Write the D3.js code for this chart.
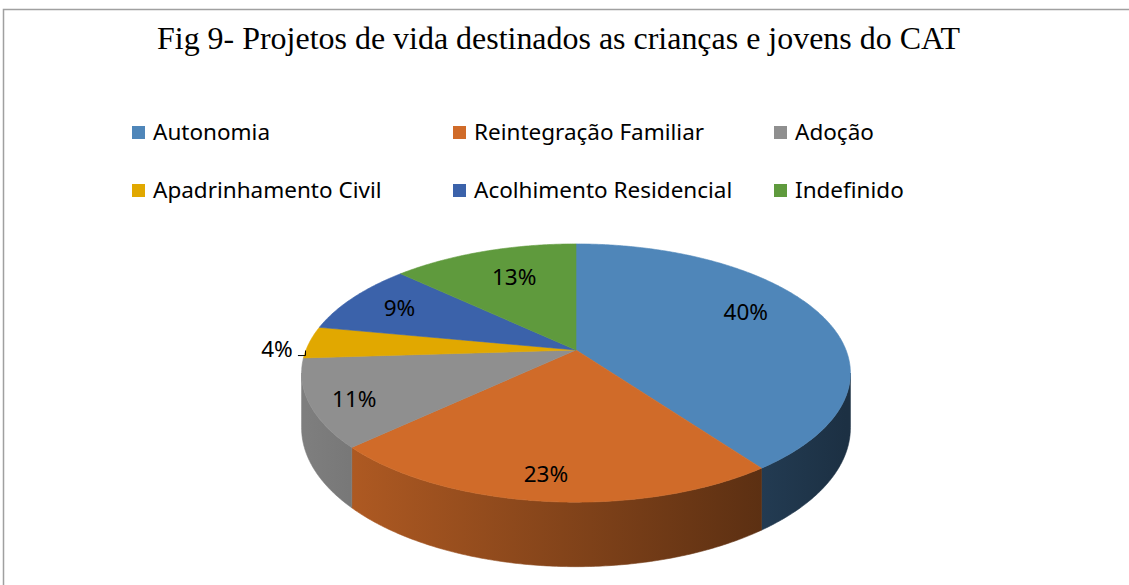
<!DOCTYPE html>
<html>
<head>
<meta charset="utf-8">
<script src="https://cdn.jsdelivr.net/npm/d3@7"></script>
<style>
  body { margin: 0; background: #fff; }
  svg { display: block; }
</style>
</head>
<body>
<script>
// data
var categories = ['Autonomia', 'Reintegração Familiar', 'Adoção',
                  'Apadrinhamento Civil', 'Acolhimento Residencial', 'Indefinido'];
var values = [40, 23, 11, 4, 9, 13];
var colors = ['#4f86b9', '#d06b29', '#8f8f8f', '#e1a800', '#3b62aa', '#5f9a3d'];
var titleText = 'Fig 9- Projetos de vida destinados as crianças e jovens do CAT';

// label placement (angle nudge in degrees, radius as fraction)
var labelShift = [-8, 1, -2, -3, 0, 2];
var labelRadius = [0.74, 0.85, 0.85, 1.11, 0.78, 0.70];

var W = 1129, H = 585;
var g = {cx: 576, cy: 350, A: 125, B: 270, k: -0.1785, depth: 53};

var svg = d3.select('body').append('svg')
  .attr('width', W)
  .attr('height', H);

svg.append('rect').attr('width', W).attr('height', H).attr('fill', '#fff');

// frame (top + left edges only are visible)
svg.append('path')
  .attr('d', 'M3.5,' + H + 'V9.5H' + W)
  .attr('fill', 'none')
  .attr('stroke', '#a0a0a0')
  .attr('stroke-width', 1.5);

svg.append('text')
  .attr('x', 558.5)
  .attr('y', 49)
  .attr('text-anchor', 'middle')
  .attr('font-family', 'Liberation Serif, Times New Roman, serif')
  .attr('font-size', 32)
  .attr('textLength', 803)
  .attr('lengthAdjust', 'spacingAndGlyphs')
  .attr('fill', '#000')
  .text(titleText);

// legend
var legend = svg.append('g').attr('font-family', 'Noto Sans, sans-serif').attr('font-size', 22.5);
categories.forEach(function(c, i) {
  var col = i % 3, row = Math.floor(i / 3);
  var x = 132 + col * 321, y = 126 + row * 58;
  legend.append('rect').attr('x', x).attr('y', y).attr('width', 13).attr('height', 13).attr('fill', colors[i]);
  legend.append('text').attr('x', x + 21).attr('y', y + 14).attr('fill', '#000').text(c);
});

// simple perspective projection of the disc
var proj = function(theta, rho, drop) {
  var u = rho * Math.sin(theta), v = -rho * Math.cos(theta);
  var den = 1 + g.k * v;
  return [g.cx + g.B * u / den, g.cy + (g.A * v + (drop || 0)) / den];
};

var arcPts = function(a0, a1, drop) {
  var n = Math.max(2, Math.ceil((a1 - a0) / 0.01));
  return d3.range(n + 1).map(function(j) { return proj(a0 + (a1 - a0) * j / n, 1, drop); });
};

var pie = d3.pie().sort(null).startAngle(0).endAngle(2 * Math.PI);
var slices = pie(values);

// gradients for the side walls: lighter on the left, darker on the right
var defs = svg.append('defs');
var shade = d3.scaleLinear().domain([g.cx - g.B, g.cx + g.B]).range([0.88, 0.36]);
colors.forEach(function(c, i) {
  var grad = defs.append('linearGradient')
    .attr('id', 'side' + i)
    .attr('gradientUnits', 'userSpaceOnUse')
    .attr('x1', g.cx - g.B).attr('x2', g.cx + g.B)
    .attr('y1', 0).attr('y2', 0);
  [0, 1].forEach(function(t) {
    var f = shade(g.cx - g.B + t * 2 * g.B);
    var col = d3.rgb(c);
    grad.append('stop')
      .attr('offset', t)
      .attr('stop-color', d3.rgb(col.r * f, col.g * f, col.b * f).formatHex());
  });
});

// silhouette limits of the rim
var lim = Math.acos(g.k);            // right extreme
var limL = 2 * Math.PI - lim;        // left extreme
var line = d3.line();

var walls = svg.append('g');
slices.forEach(function(s, i) {
  var a0 = Math.max(s.startAngle, lim), a1 = Math.min(s.endAngle, limL);
  if (a1 <= a0) return;
  var top = arcPts(a0, a1, 0);
  var bot = arcPts(a0, a1, g.depth).reverse();
  walls.append('path')
    .attr('d', line(top.concat(bot)) + 'Z')
    .attr('fill', 'url(#side' + i + ')')
    .attr('stroke', 'url(#side' + i + ')')
    .attr('stroke-width', 0.6);
});

var tops = svg.append('g');
slices.forEach(function(s, i) {
  var pts = [proj(0, 0)].concat(arcPts(s.startAngle, s.endAngle, 0));
  tops.append('path')
    .attr('d', line(pts) + 'Z')
    .attr('fill', colors[i])
    .attr('stroke', colors[i])
    .attr('stroke-width', 0.6);
});

// data labels
var labels = svg.append('g')
  .attr('font-family', 'Noto Sans, sans-serif')
  .attr('font-size', 22.5)
  .attr('fill', '#000');
slices.forEach(function(s, i) {
  var mid = (s.startAngle + s.endAngle) / 2 + labelShift[i] * Math.PI / 180;
  var p = proj(mid, labelRadius[i], 0);
  labels.append('text')
    .attr('x', p[0]).attr('y', p[1] + 8)
    .attr('text-anchor', 'middle')
    .text(values[i] + '%');
  if (labelRadius[i] > 1) {
    // leader line from the outside label to the rim
    var rim = proj((s.startAngle + s.endAngle) / 2, 1, 0);
    var lx = p[0] + 21, ly = p[1] + 7;
    labels.append('path')
      .attr('d', 'M' + lx + ',' + ly + 'H' + (rim[0] - 4) + 'V' + (ly - 5))
      .attr('fill', 'none')
      .attr('stroke', '#000')
      .attr('stroke-width', 1);
  }
});
</script>
</body>
</html>
